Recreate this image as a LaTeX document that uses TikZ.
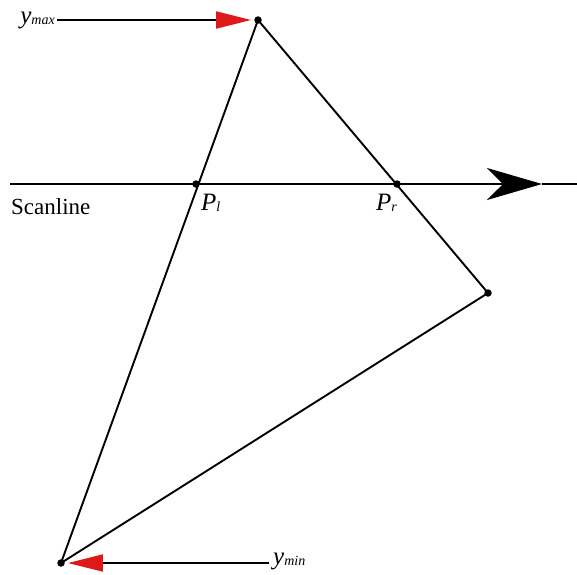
\documentclass[tikz,border=0pt]{standalone}
\usepackage{fontspec}
\setmainfont{Liberation Serif}
\usetikzlibrary{arrows.meta,positioning,calc}
\tikzset{
  edge line/.style={line width=1.9pt, black},
  vertex/.style={circle, fill=black, inner sep=0pt, minimum size=7.5pt},
  lbl/.style={font=\fontsize{23}{25}\selectfont, inner sep=1pt},
  red tip/.style={-{Triangle[length=35pt,width=17pt,color=red!85!black!90,fill=red!85!black!90]}, line width=1.9pt},
}
\newcommand{\subtxt}[2]{{\fontsize{25}{27}\selectfont\textit{#1}}\raisebox{-1pt}{\fontsize{14}{15}\selectfont\textit{#2}}}

\begin{document}
\begin{tikzpicture}[x=1pt,y=-1pt]
\useasboundingbox (0,0) rectangle (577,574);
% polygon vertices
\node[vertex] (top) at (258,20) {};
\node[vertex] (right) at (488,293) {};
\node[vertex] (bottom) at (61,563) {};
% scanline crossing points
\node[vertex] (pl) at (196,184) {};
\node[vertex] (pr) at (397,184) {};
\coordinate (slw) at (10,184);
\coordinate (sltip) at (542,184);
\coordinate (sle) at (577,184);

\draw[edge line] (top.center) -- (right.center) -- (bottom.center) -- cycle;

% scanline
\draw[edge line, -{Stealth[length=55pt,width=32pt,inset=16pt]}] (slw) -- (sltip);
\draw[edge line] (sltip) -- (sle);
\node[lbl, anchor=base west] (scan) at (10,214) {Scanline};
\node[lbl, anchor=base west] (plabel) at (200,210) {\subtxt{P}{l}};
\node[lbl, anchor=base west] (prlabel) at (375,210) {\subtxt{P}{r}};

% extremes
\node[lbl, anchor=base east, inner sep=2pt] (ymax) at (57,23) {\subtxt{y}{max}};
\draw[red tip, shorten >=3pt] (ymax.east |- top) -- (top);
\node[lbl, anchor=base west, inner sep=4pt] (ymin) at (269,564) {\subtxt{y}{min}};
\draw[red tip, shorten >=3pt] (ymin.west |- bottom) -- (bottom);
\end{tikzpicture}
\end{document}
